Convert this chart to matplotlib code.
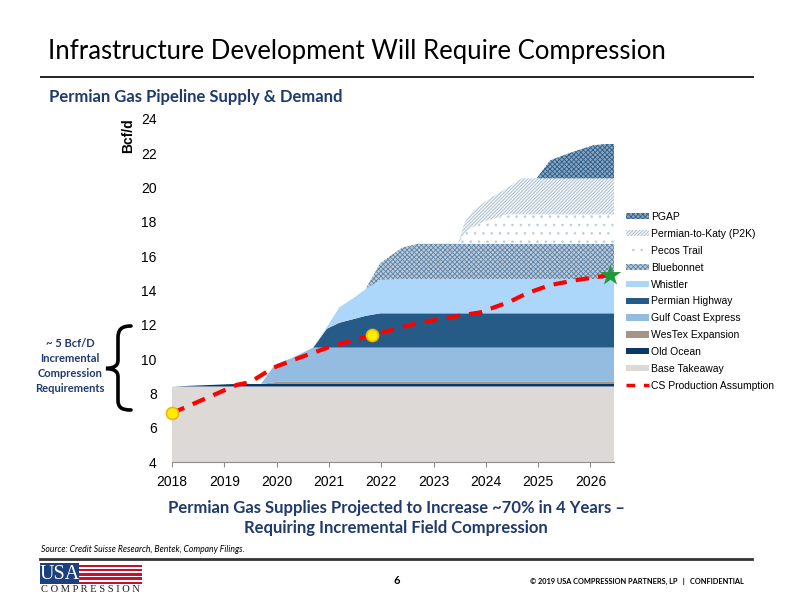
#!/usr/bin/env python3
"""
Permian gas pipeline supply & demand slide (USA Compression deck, p.6).
Writes out.png at 792x612.
"""
import matplotlib

matplotlib.use("Agg")
import matplotlib.pyplot as plt  # noqa: E402
from matplotlib.lines import Line2D  # noqa: E402
from matplotlib.patches import Patch, PathPatch, Rectangle  # noqa: E402
from matplotlib.path import Path  # noqa: E402

# --- pipeline capacity layers, Bcf/d ---
years = [2018.0, 2019.2, 2019.7, 2019.95, 2020.0, 2020.3, 2020.7, 2020.96, 2021.2,
         2021.45, 2021.7, 2021.98, 2022.4, 2022.7, 2023.47, 2023.6, 2023.76, 2023.95,
         2024.08, 2024.4, 2024.69, 2024.97, 2025.23, 2025.67, 2026.06, 2026.3, 2026.45]
base_takeaway = [8.4, 8.4, 8.4, 8.4, 8.4, 8.4, 8.4, 8.4, 8.4, 8.4, 8.4, 8.4, 8.4, 8.4,
                 8.4, 8.4, 8.4, 8.4, 8.4, 8.4, 8.4, 8.4, 8.4, 8.4, 8.4, 8.4, 8.4]
old_ocean = [0.0, 0.15, 0.15, 0.15, 0.15, 0.15, 0.15, 0.15, 0.15, 0.15, 0.15, 0.15, 0.15,
             0.15, 0.15, 0.15, 0.15, 0.15, 0.15, 0.15, 0.15, 0.15, 0.15, 0.15, 0.15, 0.15, 0.15]
westex = [0.0, 0.0, 0.0, 0.10, 0.12, 0.12, 0.12, 0.12, 0.12, 0.12, 0.12, 0.12, 0.12, 0.12,
          0.12, 0.12, 0.12, 0.12, 0.12, 0.12, 0.12, 0.12, 0.12, 0.12, 0.12, 0.12, 0.12]
gulf_coast = [0.0, 0.0, 0.0, 0.95, 1.05, 1.4, 2.0, 2.0, 2.0, 2.0, 2.0, 2.0, 2.0, 2.0,
              2.0, 2.0, 2.0, 2.0, 2.0, 2.0, 2.0, 2.0, 2.0, 2.0, 2.0, 2.0, 2.0]
permian_highway = [0.0, 0.0, 0.0, 0.0, 0.0, 0.0, 0.0, 1.1, 1.45, 1.65, 1.85, 2.0, 2.0, 2.0,
                   2.0, 2.0, 2.0, 2.0, 2.0, 2.0, 2.0, 2.0, 2.0, 2.0, 2.0, 2.0, 2.0]
whistler = [0.0, 0.0, 0.0, 0.0, 0.0, 0.0, 0.0, 0.1, 0.9, 1.2, 1.55, 1.95, 2.0, 2.0,
            2.0, 2.0, 2.0, 2.0, 2.0, 2.0, 2.0, 2.0, 2.0, 2.0, 2.0, 2.0, 2.0]
bluebonnet = [0.0, 0.0, 0.0, 0.0, 0.0, 0.0, 0.0, 0.0, 0.0, 0.0, 0.0, 0.97, 1.83, 2.05,
              2.05, 2.05, 2.05, 2.05, 2.05, 2.05, 2.05, 2.05, 2.05, 2.05, 2.05, 2.05, 2.05]
pecos_trail = [0.0, 0.0, 0.0, 0.0, 0.0, 0.0, 0.0, 0.0, 0.0, 0.0, 0.0, 0.0, 0.0, 0.0,
               0.0, 0.68, 1.0, 1.3, 1.4, 1.72, 1.72, 1.72, 1.72, 1.72, 1.72, 1.72, 1.72]
p2k = [0.0, 0.0, 0.0, 0.0, 0.0, 0.0, 0.0, 0.0, 0.0, 0.0, 0.0, 0.0, 0.0, 0.0,
       0.0, 0.6, 0.95, 1.08, 1.26, 1.52, 2.1, 2.1, 2.1, 2.1, 2.1, 2.1, 2.1]
pgap = [0.0, 0.0, 0.0, 0.0, 0.0, 0.0, 0.0, 0.0, 0.0, 0.0, 0.0, 0.0, 0.0, 0.0,
        0.0, 0.0, 0.0, 0.0, 0.0, 0.0, 0.0, 0.0, 1.05, 1.55, 1.93, 2.0, 2.0]

layer_names = ["Base Takeaway", "Old Ocean", "WesTex Expansion", "Gulf Coast Express",
               "Permian Highway", "Whistler", "Bluebonnet", "Pecos Trail",
               "Permian-to-Katy (P2K)", "PGAP"]

# --- Credit Suisse production assumption ---
cs_years = [2018.0, 2019.24, 2019.49, 2019.94, 2020.32, 2021.02, 2021.83, 2022.68,
            2023.63, 2023.89, 2024.46, 2024.78, 2025.23, 2025.74, 2026.37]
cs_production = [6.85, 8.5, 8.65, 9.5, 9.95, 10.72, 11.4, 12.09,
                 12.6, 12.72, 13.35, 13.83, 14.32, 14.61, 14.9]
highlight_years = [2018.0, 2021.83]
highlight_values = [6.85, 11.4]

year_ticks = [2018, 2019, 2020, 2021, 2022, 2023, 2024, 2025, 2026]
y_ticks = [4, 6, 8, 10, 12, 14, 16, 18, 20, 22, 24]

# facecolor, hatch, hatch colour
STYLES = {
    "Base Takeaway": ("#ddd9d6", None, None),
    "Old Ocean": ("#0c3866", None, None),
    "WesTex Expansion": ("#a39588", None, None),
    "Gulf Coast Express": ("#93bce0", None, None),
    "Permian Highway": ("#265b88", None, None),
    "Whistler": ("#acd7fb", None, None),
    "Bluebonnet": ("#bccbda", "xxxxxxx", "#5b82a7"),
    "Pecos Trail": ("#ffffff", "..", "#b8cfe2"),
    "Permian-to-Katy (P2K)": ("#f1f4f7", "//////////", "#a9bccd"),
    "PGAP": ("#8aa6c1", "xxxxxxx", "#2b5c88"),
}
NAVY = "#1f3a6e"
W, H = 792, 612


def fx(x):
    return x / W


def fy(y):
    return 1 - y / H


def draw_brace(fig):
    verts = [(131, 326), (121, 326), (118, 330), (118, 338),
             (118, 360),
             (118, 366), (114, 368), (106, 368.5),
             (114, 369), (118, 371), (118, 377),
             (118, 400),
             (118, 407), (121, 410), (131, 410)]
    codes = [Path.MOVETO, Path.CURVE4, Path.CURVE4, Path.CURVE4,
             Path.LINETO,
             Path.CURVE4, Path.CURVE4, Path.CURVE4,
             Path.CURVE4, Path.CURVE4, Path.CURVE4,
             Path.LINETO,
             Path.CURVE4, Path.CURVE4, Path.CURVE4]
    path = Path([(fx(x), fy(y)) for x, y in verts], codes)
    fig.patches.append(PathPatch(path, transform=fig.transFigure, fill=False,
                                 edgecolor="black", linewidth=2.6, capstyle="round"))


def draw_footer(fig):
    fig.add_artist(Line2D([fx(40), fx(752)], [fy(559), fy(559)], color="#333333", lw=2))
    fig.text(fx(41), fy(549), "Source: Credit Suisse Research, Bentek, Company Filings.",
             fontsize=6.2, style="italic", family="Lato", va="center")
    # logo: blue canton + stripes
    for i in range(5):
        fig.add_artist(Rectangle((fx(40), fy(564.5 + i * 4.3 + 2.4)), fx(142) - fx(40), 2.4 / H,
                                 transform=fig.transFigure, color="#c8102e", lw=0))
    fig.add_artist(Rectangle((fx(40), fy(584)), fx(79) - fx(40), 21 / H,
                             transform=fig.transFigure, color="#1d3f7c", lw=0))
    fig.text(fx(59.5), fy(574.5), "USA", color="white", fontsize=14.5,
             family="Liberation Serif", ha="center", va="center")
    fig.text(fx(90.5), fy(590), "C O M P R E S S I O N", fontsize=7.6,
             family="Liberation Serif", ha="center", va="center", color="#222222")
    fig.text(fx(397), fy(581), "6", fontsize=8, weight="bold", family="Lato", ha="center",
             va="center")
    fig.text(fx(744), fy(581), "© 2019 USA COMPRESSION PARTNERS, LP   |   CONFIDENTIAL",
             fontsize=5.3, weight="bold", family="Lato", ha="right", va="center")


def build_figure():
    plt.rcParams["hatch.linewidth"] = 0.6
    fig = plt.figure(figsize=(W / 100, H / 100), dpi=100)

    fig.text(fx(48), fy(52), "Infrastructure Development Will Require Compression",
             fontsize=18.5, family="Lato", va="center")
    fig.add_artist(Line2D([fx(41), fx(753)], [fy(77), fy(77)], color="#222222", lw=1.4))
    fig.text(fx(49), fy(97), "Permian Gas Pipeline Supply & Demand", fontsize=12,
             weight="bold", family="Lato", color=NAVY, va="center")

    ax = fig.add_axes([fx(172), fy(462), (614 - 172) / W, (462 - 119) / H])
    layers = [base_takeaway, old_ocean, westex, gulf_coast, permian_highway, whistler,
              bluebonnet, pecos_trail, p2k, pgap]
    polys = ax.stackplot(years, *layers, labels=layer_names)
    handles = {}
    for poly, name in zip(polys, layer_names):
        face, hatch, hcol = STYLES[name]
        poly.set_facecolor(face)
        poly.set_linewidth(0)
        if hatch:
            poly.set_hatch(hatch)
            poly.set_edgecolor(hcol)
        handles[name] = Patch(facecolor=face, hatch=hatch, edgecolor=hcol or face, lw=0)

    ax.plot(cs_years, cs_production, color="#ff0000", lw=3, dashes=(3.2, 2.2),
            solid_capstyle="butt", zorder=4)
    ax.scatter(highlight_years, highlight_values, s=75, color="#ffee00",
               edgecolor="#f2b600", linewidth=1.2, zorder=5, clip_on=False)
    ax.scatter([cs_years[-1]], [cs_production[-1]], s=260, marker="*", color="#1e9a3c",
               zorder=6, clip_on=False, linewidth=0)

    ax.set_xlim(2018, 2026.45)
    ax.set_ylim(4, 24)
    ax.set_xticks(year_ticks)
    ax.set_yticks(y_ticks)
    for lab in ax.get_xticklabels() + ax.get_yticklabels():
        lab.set_family("Liberation Sans")
        lab.set_fontsize(10)
    ax.tick_params(axis="x", length=3.5, color="#8c8c8c", pad=6)
    ax.tick_params(axis="y", length=0, pad=11)
    for side in ("top", "right", "left"):
        ax.spines[side].set_visible(False)
    ax.spines["bottom"].set_color("#8c8c8c")
    fig.text(fx(128), fy(136), "Bcf/d", rotation=90, fontsize=10, weight="bold",
             family="Liberation Sans", ha="center", va="center")

    order = list(reversed(layer_names))
    leg_handles = [handles[n] for n in order]
    leg_handles.append(Line2D([], [], color="#ff0000", lw=2.5, dashes=(2.5, 2.5)))
    leg_labels = order + ["CS Production Assumption"]
    leg = fig.legend(leg_handles, leg_labels, loc="upper left",
                     bbox_to_anchor=(fx(626), fy(212)), frameon=False, fontsize=7.5,
                     handlelength=2.2, handleheight=0.55, handletextpad=0.2,
                     labelspacing=0.66, borderpad=0, borderaxespad=0)
    for t in leg.get_texts():
        t.set_family("Liberation Sans")

    fig.text(fx(70), fy(366), "~ 5 Bcf/D\nIncremental\nCompression\nRequirements",
             fontsize=8, weight="bold", family="Lato", color=NAVY, ha="center", va="center",
             linespacing=1.45)
    draw_brace(fig)

    fig.text(fx(396), fy(518),
             "Permian Gas Supplies Projected to Increase ~70% in 4 Years –\n"
             "Requiring Incremental Field Compression",
             fontsize=12, weight="bold", family="Lato", color=NAVY, ha="center",
             va="center", linespacing=1.35)
    draw_footer(fig)
    return fig


def main():
    fig = build_figure()
    fig.savefig("out.png", dpi=100)
    plt.close(fig)
    return 0


if __name__ == "__main__":
    raise SystemExit(main())
